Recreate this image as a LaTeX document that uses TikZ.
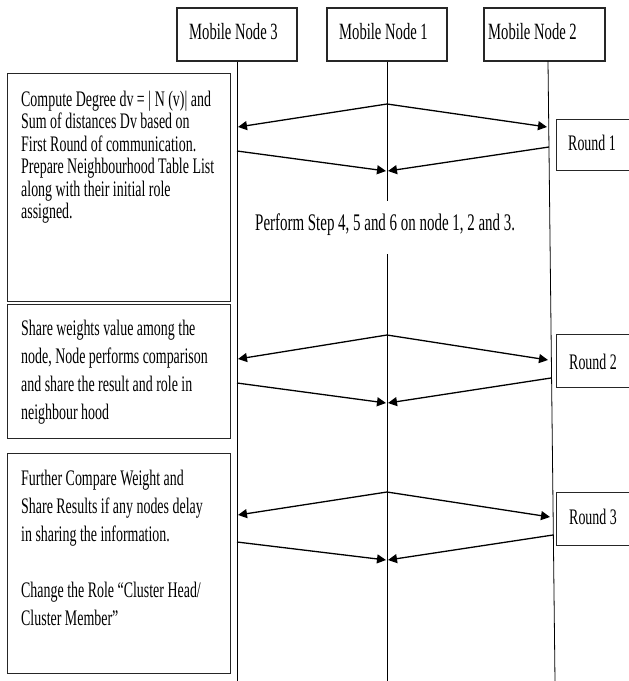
\documentclass[tikz,border=0pt]{standalone}
\usepackage{fontspec}
\setmainfont{Liberation Serif}[FakeStretch=0.628]
\usetikzlibrary{arrows.meta}
\begin{document}
\begin{tikzpicture}[x=1pt,y=-1pt,
  box/.style={draw=black!85, line width=1.2pt, inner sep=0pt},
  life/.style={line width=0.8pt},
  msg/.style={line width=1.3pt, -{Triangle[length=9pt,width=9pt]}},
  lbl/.style={inner sep=0pt, anchor=base west},
  headfont/.style={font=\fontsize{23.3}{23.3}\selectfont},
  boxfont/.style={font=\fontsize{22.2}{22.5}\selectfont}]
\useasboundingbox (0,0) rectangle (629,681);
\clip (0,0) rectangle (629,681);

% top boxes
\node[box, minimum width=120pt, minimum height=53pt] (mn3) at (237,34.5) {};
\node[box, minimum width=120pt, minimum height=53pt] (mn1) at (387,34.5) {};
\node[box, minimum width=121pt, minimum height=53pt] (mn2) at (544.5,34.5) {};
\node[lbl, headfont] (mn3t) at (189,39.5) {Mobile Node 3};
\node[lbl, headfont] (mn1t) at (339,39.5) {Mobile Node 1};
\node[lbl, headfont] (mn2t) at (488,39.5) {Mobile Node 2};

% lifelines
\coordinate (mn3b) at (237,681);
\coordinate (g1) at (387,201);
\coordinate (g2) at (387,254);
\coordinate (mn1b) at (387,681);
\coordinate (mn2a) at (548,61);
\coordinate (mn2b) at (555,681);
\draw[life] (mn3.south) -- (mn3b);
\draw[life] (mn1.south) -- (g1);
\draw[life] (g2) -- (mn1b);
\draw[life] (mn2a) -- (mn2b);

% left boxes
\node[box, minimum width=223pt, minimum height=228pt, anchor=north west] (b1) at (7,73) {};
\node[box, minimum width=223pt, minimum height=134pt, anchor=north west] (b2) at (7,304) {};
\node[box, minimum width=223pt, minimum height=220pt, anchor=north west] (b3) at (7,453) {};

\node[lbl, boxfont] (t1) at (21,106) {\parbox[t]{210pt}{\fontsize{22.2}{22.5}\selectfont
Compute Degree dv = |\,N (v)| and\\
Sum of distances Dv based on\\
First  Round of communication.\\
Prepare Neighbourhood Table List\\
along with their initial role\\
assigned.}};

\node[lbl, boxfont] (t2) at (21,335) {\parbox[t]{210pt}{\fontsize{22.2}{28}\selectfont
Share weights  value among the\\
node, Node performs comparison\\
and share the result  and role in\\
neighbour hood}};

\node[lbl, boxfont] (t3) at (21,485) {\parbox[t]{210pt}{\fontsize{22.2}{28}\selectfont
Further Compare Weight  and\\
Share Results if any nodes delay\\
in sharing the information.\\[28pt]
Change the Role “Cluster Head/\\
Cluster Member”}};

% round boxes
\node[box, minimum width=84pt, minimum height=51pt, anchor=north west] (r1) at (556,119) {};
\node[box, minimum width=84pt, minimum height=53pt, anchor=north west] (r2) at (556,334) {};
\node[box, minimum width=84pt, minimum height=53pt, anchor=north west] (r3) at (556,492) {};
\node[lbl, boxfont] (r1t) at (568,150) {Round 1};
\node[lbl, boxfont] (r2t) at (569,369) {Round 2};
\node[lbl, boxfont] (r3t) at (569,524) {Round 3};

% perform text
\node[lbl, font=\fontsize{23.8}{23.8}\selectfont] (perf) at (255,230) {Perform Step 4, 5 and 6 on node 1, 2 and 3.};

% round 1 messages
\coordinate (a1) at (387,104);
\coordinate (a1l) at (238,127);
\coordinate (a1r) at (547,127);
\coordinate (b1l) at (237,151);
\coordinate (b1r) at (549,147);
\coordinate (m1l) at (386,171);
\coordinate (m1r) at (388,171);
\draw[msg] (a1) -- (a1l);
\draw[msg] (a1) -- (a1r);
\draw[msg] (b1l) -- (m1l);
\draw[msg] (b1r) -- (m1r);

% round 2 messages
\coordinate (a2) at (387,335);
\coordinate (a2l) at (238,359);
\coordinate (a2r) at (548,360);
\coordinate (b2l) at (237,383);
\coordinate (b2r) at (551,378);
\coordinate (m2l) at (386,403);
\coordinate (m2r) at (388,403);
\draw[msg] (a2) -- (a2l);
\draw[msg] (a2) -- (a2r);
\draw[msg] (b2l) -- (m2l);
\draw[msg] (b2r) -- (m2r);

% round 3 messages
\coordinate (a3) at (387,492);
\coordinate (a3l) at (238,515);
\coordinate (a3r) at (550,517);
\coordinate (b3l) at (237,542);
\coordinate (b3r) at (553,535);
\coordinate (m3l) at (386,560);
\coordinate (m3r) at (388,560);
\draw[msg] (a3) -- (a3l);
\draw[msg] (a3) -- (a3r);
\draw[msg] (b3l) -- (m3l);
\draw[msg] (b3r) -- (m3r);
\end{tikzpicture}
\end{document}
